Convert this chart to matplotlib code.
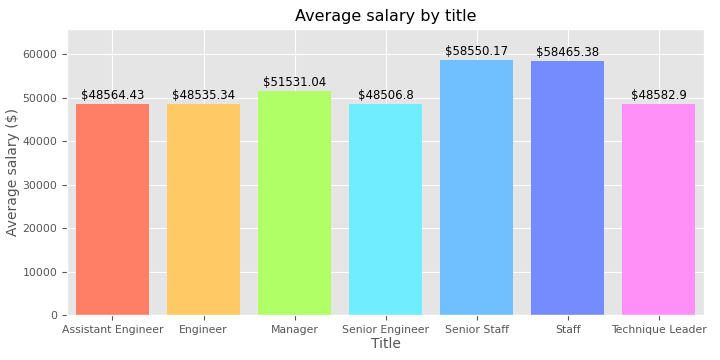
import matplotlib
matplotlib.use("Agg")
import matplotlib.pyplot as plt

plt.style.use("ggplot")

titles = ["Assistant Engineer", "Engineer", "Manager", "Senior Engineer",
          "Senior Staff", "Staff", "Technique Leader"]
salaries = [48564.43, 48535.34, 51531.04, 48506.8, 58550.17, 58465.38, 48582.9]
colors = ["#FF7F66", "#FFC966", "#B0FF66", "#70EEFF", "#70C0FF", "#758CFF", "#FF90F7"]

fig = plt.figure(figsize=(7.2, 3.6), dpi=100)
ax = fig.add_axes([0.093, 0.125, 0.885, 0.794])

x = range(len(titles))
bars = ax.bar(x, salaries, color=colors, width=0.8)

for i, v in enumerate(salaries):
    ax.text(i, v + 500, f"${v}", ha="center", va="bottom", fontsize=8.5, color="black")

ax.set_xticks(list(x))
ax.set_xticklabels(titles, fontsize=7.8)
ax.tick_params(axis="y", labelsize=7.8)
ax.set_xlim(-0.5, len(titles) - 0.5)
ax.set_ylim(0, 65750)
ax.set_title("Average salary by title", fontsize=11.5, color="black")
ax.set_xlabel("Title", fontsize=10, labelpad=2)
ax.set_ylabel("Average salary ($)", fontsize=10, labelpad=2)

fig.savefig("out.png", dpi=100)
